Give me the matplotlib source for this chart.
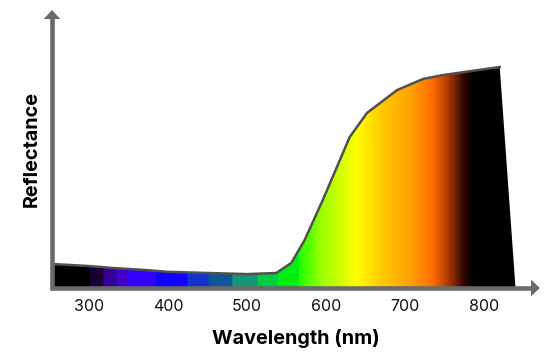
import numpy as np
import matplotlib.pyplot as plt
from matplotlib.colors import LinearSegmentedColormap, to_rgb

plt.rcParams['font.family'] = ['Inter', 'DejaVu Sans']

# reflectance curve (relative units, axis top = 1)
wavelength = [255, 300, 330, 370, 400, 450, 500, 537, 556, 573, 596, 630, 652, 690, 723, 748, 820]
reflectance = [0.086, 0.079, 0.072, 0.065, 0.058, 0.054, 0.050, 0.054, 0.090, 0.173,
               0.317, 0.543, 0.630, 0.712, 0.752, 0.766, 0.795]
end_wavelength = 840  # fill drops to the baseline here

# stepped colour bands in the UV / blue part
band_starts = [255, 301, 318, 335, 349, 384, 424, 451, 481, 513, 538]
band_colors = ['#000000', '#1a0033', '#330099', '#4400cc', '#3300ff', '#1100ff',
               '#1133cc', '#115599', '#119977', '#00cc44', '#00ee11']
# smooth gradient for the rest
smooth_nm = [565, 592, 637, 668, 706, 735, 757, 773, 786, 841]
smooth_colors = ['#22ff00', '#99ff00', '#ffff00', '#ffcc00', '#ffa000', '#ff6a00',
                 '#9a3000', '#300800', '#000000', '#000000']

xticks = [300, 400, 500, 600, 700, 800]

x0, x1 = 253, 871
nm = np.arange(x0, 842)
cmap = LinearSegmentedColormap.from_list(
    'spec', [((w - smooth_nm[0]) / (smooth_nm[-1] - smooth_nm[0]), c)
             for w, c in zip(smooth_nm, smooth_colors)])
row = np.zeros((len(nm), 3))
for i, w in enumerate(nm):
    if w < smooth_nm[0]:
        k = max(0, np.searchsorted(band_starts, w, side='right') - 1)
        row[i] = to_rgb(band_colors[k])
    else:
        row[i] = cmap((w - smooth_nm[0]) / (smooth_nm[-1] - smooth_nm[0]))[:3]
img = row[np.newaxis, :, :]

fig = plt.figure(figsize=(5.6, 3.56), dpi=100)
ax = fig.add_axes([52/560, 68/356, 488/560, 278/356])
ax.set_xlim(x0, x1)
ax.set_ylim(0, 1)

xs = wavelength + [end_wavelength, wavelength[0]]
ys = reflectance + [0, 0]
poly = ax.fill(xs, ys, facecolor='none', edgecolor='none')[0]
im = ax.imshow(img, extent=(nm[0], nm[-1] + 1, 0, 1), aspect='auto', zorder=1)
im.set_clip_path(poly)
ax.plot(wavelength, reflectance, color='#505050', lw=1.8, zorder=3, solid_joinstyle='round')

for s in ax.spines.values():
    s.set_visible(False)

# axes drawn as arrows
gray = '#6a6a6a'
ax.plot([0, 0, 0.985], [0.975, 0, 0], color=gray, lw=3.3, transform=ax.transAxes,
        clip_on=False, solid_joinstyle='miter', zorder=4)
arrow = dict(arrowstyle='-|>,head_length=0.65,head_width=0.6', color=gray, lw=0,
             mutation_scale=10, shrinkA=0, shrinkB=0)
ax.annotate('', xy=(1, 0), xytext=(0.97, 0), xycoords='axes fraction', arrowprops=arrow)
ax.annotate('', xy=(0, 1), xytext=(0, 0.95), xycoords='axes fraction', arrowprops=arrow)

ax.set_xticks(xticks)
ax.set_yticks([])
ax.tick_params(axis='x', length=0, pad=8, labelsize=11.5, labelcolor='#111111')
ax.set_xlabel('Wavelength (nm)', fontsize=14.3, fontweight='bold', labelpad=11)
ax.set_ylabel('Reflectance', fontsize=14.3, fontweight='bold', labelpad=8)

fig.savefig('out.png', dpi=100)
